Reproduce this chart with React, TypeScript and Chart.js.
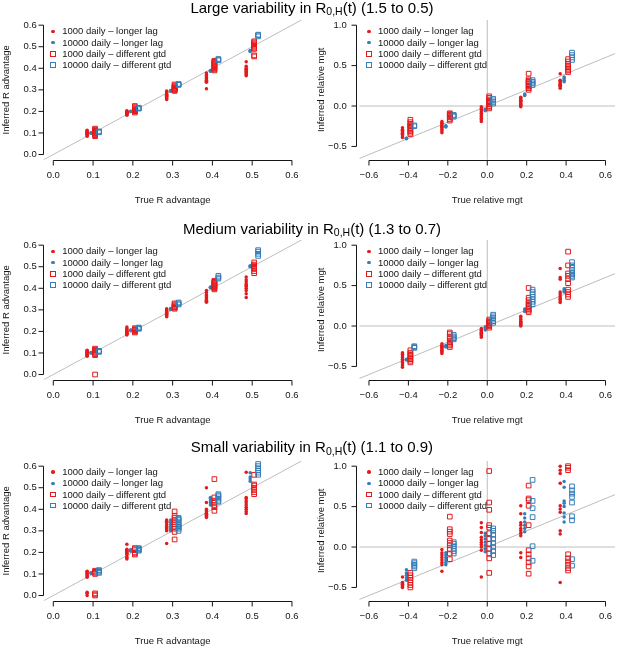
import { useEffect, useRef } from "react"
import { Chart, registerables } from "chart.js"
import type { Plugin } from "chart.js"

Chart.register(...registerables)

// ---------- data ----------

const SERIES_LABELS = [
  "1000 daily – longer lag",
  "10000 daily – longer lag",
  "1000 daily – different gtd",
  "10000 daily – different gtd",
]
const SERIES_COLORS = ["#E41A1C", "#377EB8", "#E41A1C", "#377EB8"]
const SERIES_SQUARE = [false, false, true, true]

const VARIABILITY = ["Large", "Medium", "Small"]
const R0_RANGES = ["(1.5 to 0.5)", "(1.3 to 0.7)", "(1.1 to 0.9)"]

// true values and the side-by-side shift of each series
const R_TRUE = [0.1, 0.2, 0.3, 0.4, 0.5]
const MGT_TRUE = [-0.4, -0.2, 0, 0.2, 0.4]
const R_SHIFT = [-0.015, -0.005, 0.005, 0.015]
const MGT_SHIFT = [-0.03, -0.01, 0.01, 0.03]

const R_TICKS = [0, 0.1, 0.2, 0.3, 0.4, 0.5, 0.6]
const MGT_X_TICKS = [-0.6, -0.4, -0.2, 0, 0.2, 0.4, 0.6]
const MGT_Y_TICKS = [-0.5, 0, 0.5, 1]
const MGT_Y_LIMITS = [-0.6, 1.0]
const IDENTITY = [-2, 2]

// large variability – R advantage
const largeR1000Lag = [
  [0.085, 0.09, 0.093, 0.096, 0.1, 0.103, 0.106, 0.11, 0.113, 0.098],
  [0.182, 0.186, 0.189, 0.192, 0.195, 0.198, 0.2, 0.203, 0.19, 0.196],
  [0.255, 0.26, 0.265, 0.27, 0.275, 0.28, 0.285, 0.29, 0.295, 0.272],
  [0.305, 0.335, 0.34, 0.345, 0.35, 0.355, 0.36, 0.365, 0.37, 0.378],
  [0.365, 0.37, 0.375, 0.38, 0.385, 0.39, 0.395, 0.4, 0.41, 0.43],
]
const largeR10000Lag = [
  [0.099, 0.1, 0.101],
  [0.199, 0.2, 0.201],
  [0.293, 0.295, 0.297],
  [0.386, 0.388, 0.39],
  [0.478, 0.48, 0.482],
]
const largeR1000Gtd = [
  [0.085, 0.09, 0.095, 0.1, 0.105, 0.11, 0.115, 0.12, 0.1, 0.108],
  [0.195, 0.2, 0.205, 0.21, 0.215, 0.22, 0.225, 0.2, 0.21, 0.205],
  [0.295, 0.3, 0.305, 0.31, 0.315, 0.32, 0.325, 0.3, 0.31, 0.305],
  [0.39, 0.395, 0.4, 0.405, 0.41, 0.415, 0.42, 0.425, 0.43, 0.435],
  [0.455, 0.46, 0.49, 0.495, 0.5, 0.505, 0.51, 0.515, 0.52, 0.525],
]
const largeR10000Gtd = [
  [0.103, 0.105, 0.107],
  [0.213, 0.215, 0.217],
  [0.323, 0.325, 0.327],
  [0.437, 0.44, 0.443],
  [0.548, 0.553, 0.556],
]

// large variability – relative mgt
const largeM1000Lag = [
  [-0.27, -0.29, -0.3, -0.31, -0.32, -0.33, -0.34, -0.35, -0.37, -0.39],
  [-0.19, -0.21, -0.22, -0.23, -0.25, -0.26, -0.27, -0.29, -0.31, -0.33],
  [-0.01, -0.03, -0.05, -0.07, -0.09, -0.11, -0.13, -0.15, -0.17, -0.19],
  [-0.01, 0.01, 0.02, 0.03, 0.05, 0.06, 0.07, 0.08, 0.1, 0.11],
  [0.22, 0.24, 0.25, 0.26, 0.27, 0.28, 0.3, 0.31, 0.32, 0.4],
]
const largeM10000Lag = [
  [-0.4, -0.405, -0.398],
  [-0.26, -0.25, -0.245],
  [-0.06, -0.05, -0.04],
  [0.13, 0.14, 0.15],
  [0.3, 0.32, 0.34, 0.36],
]
const largeM1000Gtd = [
  [-0.17, -0.2, -0.22, -0.24, -0.25, -0.27, -0.29, -0.31, -0.33, -0.35],
  [-0.09, -0.1, -0.11, -0.12, -0.13, -0.14, -0.16, -0.18],
  [-0.03, -0.01, 0, 0.02, 0.04, 0.05, 0.06, 0.08, 0.1, 0.12],
  [0.2, 0.22, 0.24, 0.25, 0.27, 0.29, 0.3, 0.31, 0.33, 0.4],
  [0.42, 0.44, 0.46, 0.48, 0.5, 0.52, 0.55, 0.58],
]
const largeM10000Gtd = [
  [-0.25, -0.24],
  [-0.13, -0.12, -0.11],
  [0.03, 0.05, 0.07, 0.09],
  [0.26, 0.28, 0.3, 0.32],
  [0.57, 0.6, 0.63, 0.66],
]

// medium variability – R advantage
const mediumR1000Lag = [
  [0.085, 0.088, 0.091, 0.094, 0.097, 0.1, 0.103, 0.106, 0.11, 0.113],
  [0.183, 0.187, 0.19, 0.194, 0.197, 0.2, 0.204, 0.208, 0.214, 0.22],
  [0.268, 0.272, 0.276, 0.28, 0.284, 0.288, 0.292, 0.296, 0.3, 0.305],
  [0.335, 0.34, 0.345, 0.35, 0.355, 0.36, 0.365, 0.37, 0.38, 0.39],
  [0.357, 0.375, 0.39, 0.4, 0.41, 0.415, 0.42, 0.43, 0.44, 0.452],
]
const mediumR10000Lag = [
  [0.1, 0.101, 0.102],
  [0.204, 0.205, 0.206],
  [0.302, 0.304, 0.306],
  [0.402, 0.404, 0.406],
  [0.5, 0.502, 0.504],
]
const mediumR1000Gtd = [
  [0.0, 0.09, 0.095, 0.1, 0.105, 0.11, 0.115, 0.12],
  [0.195, 0.2, 0.205, 0.21, 0.215, 0.2, 0.208],
  [0.305, 0.31, 0.315, 0.32, 0.325, 0.33, 0.312],
  [0.395, 0.4, 0.405, 0.41, 0.415, 0.42, 0.425, 0.43, 0.435],
  [0.47, 0.48, 0.49, 0.495, 0.5, 0.505, 0.51, 0.52],
]
const mediumR10000Gtd = [
  [0.105, 0.108, 0.11],
  [0.212, 0.215, 0.218],
  [0.325, 0.33, 0.334],
  [0.445, 0.45, 0.458],
  [0.55, 0.56, 0.57, 0.577],
]

// medium variability – relative mgt
const mediumM1000Lag = [
  [-0.33, -0.35, -0.37, -0.39, -0.41, -0.43, -0.45, -0.47, -0.49, -0.51],
  [-0.22, -0.24, -0.25, -0.26, -0.27, -0.28, -0.3, -0.31, -0.32, -0.34],
  [-0.03, -0.05, -0.06, -0.07, -0.08, -0.09, -0.1, -0.11, -0.12, -0.14],
  [0, 0.01, 0.02, 0.03, 0.04, 0.05, 0.06, 0.08, 0.1, 0.12],
  [0.29, 0.31, 0.33, 0.35, 0.37, 0.4, 0.42, 0.58, 0.6, 0.71],
]
const mediumM10000Lag = [
  [-0.42, -0.41],
  [-0.26, -0.25, -0.24],
  [-0.05, -0.03, -0.01],
  [0.18, 0.2, 0.21],
  [0.42, 0.44, 0.46],
]
const mediumM1000Gtd = [
  [-0.3, -0.33, -0.35, -0.37, -0.39, -0.41, -0.43, -0.45],
  [-0.08, -0.1, -0.13, -0.15, -0.18, -0.2, -0.22, -0.24, -0.26],
  [-0.02, 0, 0.01, 0.02, 0.04, 0.05, 0.06, 0.08],
  [0.17, 0.19, 0.21, 0.23, 0.25, 0.27, 0.29, 0.32, 0.35, 0.47],
  [0.36, 0.39, 0.42, 0.45, 0.53, 0.58, 0.62, 0.65, 0.75, 0.92],
]
const mediumM10000Gtd = [
  [-0.27, -0.26, -0.25],
  [-0.11, -0.13, -0.15, -0.165],
  [0.04, 0.06, 0.08, 0.1, 0.12, 0.14],
  [0.27, 0.3, 0.33, 0.36, 0.39, 0.42, 0.45],
  [0.6, 0.62, 0.64, 0.66, 0.69, 0.72, 0.75, 0.79],
]

// small variability – R advantage
const smallR1000Lag = [
  [0, 0.01, 0.015, 0.085, 0.09, 0.095, 0.1, 0.105, 0.11, 0.113],
  [0.17, 0.175, 0.18, 0.19, 0.195, 0.2, 0.205, 0.21, 0.215, 0.238],
  [0.241, 0.3, 0.305, 0.31, 0.315, 0.32, 0.33, 0.34, 0.345, 0.35],
  [0.362, 0.367, 0.372, 0.377, 0.382, 0.387, 0.392, 0.4, 0.432, 0.5],
  [0.38, 0.39, 0.4, 0.41, 0.42, 0.43, 0.44, 0.45, 0.455, 0.572],
]
const smallR10000Lag = [
  [0.102, 0.104, 0.106],
  [0.205, 0.21, 0.214],
  [0.3, 0.31, 0.32, 0.33, 0.34, 0.35],
  [0.42, 0.43, 0.44, 0.45, 0.455],
  [0.53, 0.54, 0.55, 0.57],
]
const smallR1000Gtd = [
  [0, 0.005, 0.01, 0.1, 0.105, 0.11, 0.115],
  [0.19, 0.195, 0.2, 0.21, 0.215, 0.22],
  [0.26, 0.295, 0.31, 0.32, 0.33, 0.34, 0.35, 0.36, 0.37, 0.39],
  [0.393, 0.41, 0.42, 0.43, 0.44, 0.455, 0.54],
  [0.47, 0.48, 0.49, 0.5, 0.51, 0.515, 0.56],
]
const smallR10000Gtd = [
  [0.105, 0.11, 0.115, 0.118],
  [0.208, 0.212, 0.216, 0.22],
  [0.3, 0.31, 0.315, 0.32, 0.325, 0.33, 0.34, 0.35, 0.355, 0.36],
  [0.435, 0.44, 0.45, 0.46, 0.465, 0.47],
  [0.56, 0.57, 0.58, 0.59, 0.6, 0.61],
]

// small variability – relative mgt
const smallM1000Lag = [
  [-0.37, -0.44, -0.45, -0.46, -0.47, -0.48, -0.49, -0.5],
  [-0.03, -0.07, -0.1, -0.13, -0.16, -0.19, -0.22, -0.3],
  [-0.37, -0.04, 0, 0.03, 0.06, 0.09, 0.12, 0.18, 0.24, 0.3],
  [-0.13, -0.07, 0.14, 0.17, 0.2, 0.23, 0.27, 0.3, 0.41, 0.51],
  [-0.44, 0.16, 0.2, 0.43, 0.47, 0.51, 0.79, 0.91, 0.95, 1.0],
]
const smallM10000Lag = [
  [-0.28, -0.32, -0.35, -0.38, -0.41],
  [-0.07, -0.1, -0.13, -0.16, -0.19, -0.22],
  [-0.06, -0.02, 0.02, 0.06, 0.1, 0.14, 0.17],
  [0.19, 0.23, 0.27, 0.31, 0.36, 0.41],
  [0.31, 0.37, 0.42, 0.5, 0.54, 0.57, 0.74, 0.81],
]
const smallM1000Gtd = [
  [-0.32, -0.35, -0.38, -0.41, -0.44, -0.47, -0.5],
  [-0.15, -0.08, -0.03, 0.02, 0.05, 0.08, 0.16, 0.19, 0.22, 0.376],
  [-0.32, -0.14, -0.08, -0.02, 0.04, 0.1, 0.17, 0.24, 0.27, 0.46, 0.55, 0.94],
  [-0.33, -0.24, -0.19, -0.14, -0.09, -0.04, 0.27, 0.51, 0.58, 0.6, 0.76],
  [-0.29, -0.26, -0.22, -0.18, -0.14, -0.09, 0.95, 0.98, 1.0],
]
const smallM10000Gtd = [
  [-0.18, -0.2, -0.22, -0.24, -0.26],
  [-0.08, -0.05, -0.02, 0.01, 0.04, 0.06],
  [-0.1, -0.05, 0, 0.05, 0.1, 0.15, 0.2, 0.23],
  [-0.17, 0.01, 0.37, 0.48, 0.57, 0.83],
  [-0.23, -0.15, 0.33, 0.38, 0.55, 0.62, 0.66, 0.7, 0.75],
]

const PANELS = [
  [
    [largeR1000Lag, largeR10000Lag, largeR1000Gtd, largeR10000Gtd],
    [largeM1000Lag, largeM10000Lag, largeM1000Gtd, largeM10000Gtd],
  ],
  [
    [mediumR1000Lag, mediumR10000Lag, mediumR1000Gtd, mediumR10000Gtd],
    [mediumM1000Lag, mediumM10000Lag, mediumM1000Gtd, mediumM10000Gtd],
  ],
  [
    [smallR1000Lag, smallR10000Lag, smallR1000Gtd, smallR10000Gtd],
    [smallM1000Lag, smallM10000Lag, smallM1000Gtd, smallM10000Gtd],
  ],
]

// ---------- layout ----------

const FONT = "'Liberation Sans', Arial, Helvetica, sans-serif"
const INK = "#151515"
const GUIDE = "#bdbdbd"
const FONT_SIZE = 9.5
const TICK_LEN = 5

const ROW_TOPS = [19.8, 239.8, 460.5] // top of each row's plot area
const TITLE_TOPS = [-0.4, 220.6, 439]
const PLOT_H = 139.7
const PAD_TOP = 14
const X_AXIS_H = 46
const COLS = [
  { left: 0, width: 310, yAxisW: 43.75, padRight: 8.5, tickPad: 7, titlePad: 0.3, axisGap: 0.3 },
  { left: 308, width: 312, yAxisW: 51.5, padRight: 3.5, tickPad: 12.8, titlePad: 7.3, axisGap: 4 },
]
const LEG_DX = 9.3
const LEG_DY = 11.6
const LEG_STEP = 11.2

const fmt = (v: number) => (v < -1e-9 ? "\u2212" : "") + Math.abs(v).toFixed(1)

// R-style axes: the line only spans the first to the last tick
const rAxis: Plugin = {
  id: "rAxis",
  afterDraw(chart, _args, opts: any) {
    const { ctx, chartArea } = chart
    const xs = chart.scales.x
    const ys = chart.scales.y
    const ax = Math.round(chartArea.left - opts.yGap) + 0.5
    const ay = Math.round(chartArea.bottom + opts.xGap) + 0.5
    const xp = xs.ticks.map((t) => xs.getPixelForValue(t.value))
    const yp = ys.ticks.map((t) => ys.getPixelForValue(t.value))
    ctx.save()
    ctx.strokeStyle = INK
    ctx.lineWidth = 1
    ctx.beginPath()
    ctx.moveTo(xp[0], ay)
    ctx.lineTo(xp[xp.length - 1], ay)
    for (const p of xp) {
      ctx.moveTo(p, ay)
      ctx.lineTo(p, ay + TICK_LEN)
    }
    ctx.moveTo(ax, yp[0])
    ctx.lineTo(ax, yp[yp.length - 1])
    for (const p of yp) {
      ctx.moveTo(ax, p)
      ctx.lineTo(ax - TICK_LEN, p)
    }
    ctx.stroke()
    ctx.restore()
  },
}

function Panel({ row, col }: { row: number; col: number }) {
  const canvasRef = useRef<HTMLCanvasElement>(null)
  const chartRef = useRef<Chart | null>(null)
  const g = COLS[col]
  const mgt = col === 1

  useEffect(() => {
    if (!canvasRef.current) return
    if (chartRef.current) chartRef.current.destroy()

    const truth = mgt ? MGT_TRUE : R_TRUE
    const shift = mgt ? MGT_SHIFT : R_SHIFT
    const xTicks = mgt ? MGT_X_TICKS : R_TICKS
    const yTicks = mgt ? MGT_Y_TICKS : R_TICKS
    const xLo = xTicks[0]
    const xHi = xTicks[xTicks.length - 1]
    const yLo = mgt ? MGT_Y_LIMITS[0] : R_TICKS[0]
    const yHi = mgt ? MGT_Y_LIMITS[1] : R_TICKS[R_TICKS.length - 1]
    // R pads each axis range by 4 %
    const xPad = 0.04 * (xHi - xLo)
    const yPad = 0.04 * (yHi - yLo)

    const points: any[] = PANELS[row][col].map((byGroup, s) => ({
      type: "scatter",
      label: SERIES_LABELS[s],
      data: truth.flatMap((t, gi) => byGroup[gi].map((y) => ({ x: t + shift[s], y }))),
      pointStyle: SERIES_SQUARE[s] ? "rect" : "circle",
      pointRadius: SERIES_SQUARE[s] ? 3.3 : 1.75,
      pointBorderWidth: SERIES_SQUARE[s] ? 1 : 0,
      pointBorderColor: SERIES_COLORS[s],
      pointBackgroundColor: SERIES_SQUARE[s] ? "rgba(0,0,0,0)" : SERIES_COLORS[s],
      order: 3 - s,
    }))

    const guide = (data: { x: number; y: number }[]) => ({
      type: "line",
      data,
      borderColor: GUIDE,
      borderWidth: 1,
      pointRadius: 0,
      order: 10,
    })
    const guides: any[] = [guide(IDENTITY.map((v) => ({ x: v, y: v })))]
    if (mgt) {
      guides.push(guide(IDENTITY.map((v) => ({ x: v, y: 0 }))))
      guides.push(guide(IDENTITY.map((v) => ({ x: 0, y: v }))))
    }

    const tickFont = { family: FONT, size: FONT_SIZE }

    chartRef.current = new Chart(canvasRef.current, {
      type: "scatter",
      data: { datasets: [...points, ...guides] },
      options: {
        animation: false,
        responsive: true,
        maintainAspectRatio: false,
        events: [],
        layout: { padding: { top: PAD_TOP, left: 0, right: g.padRight, bottom: 0 } },
        plugins: {
          legend: { display: false },
          tooltip: { enabled: false },
          rAxis: { yGap: g.axisGap, xGap: 0.5 },
        } as any,
        scales: {
          x: {
            type: "linear",
            min: xLo - xPad,
            max: xHi + xPad,
            afterBuildTicks: (s: any) => {
              s.ticks = xTicks.map((value) => ({ value }))
            },
            afterFit: (s: any) => {
              s.height = X_AXIS_H
              s.paddingLeft = s.paddingRight = s.paddingTop = s.paddingBottom = 0
            },
            grid: { display: false, drawTicks: false },
            border: { display: false },
            ticks: {
              padding: 10,
              color: INK,
              font: tickFont,
              autoSkip: false,
              maxRotation: 0,
              callback: (v: any) => fmt(Number(v)),
            },
            title: {
              display: true,
              text: mgt ? "True relative mgt" : "True R advantage",
              color: INK,
              font: tickFont,
              padding: 0,
            },
          },
          y: {
            type: "linear",
            min: yLo - yPad,
            max: yHi + yPad,
            afterBuildTicks: (s: any) => {
              s.ticks = yTicks.map((value) => ({ value }))
            },
            afterFit: (s: any) => {
              s.width = g.yAxisW
              s.paddingLeft = s.paddingRight = s.paddingTop = s.paddingBottom = 0
            },
            grid: { display: false, drawTicks: false },
            border: { display: false },
            ticks: {
              padding: g.tickPad,
              color: INK,
              font: tickFont,
              autoSkip: false,
              callback: (v: any) => fmt(Number(v)),
            },
            title: {
              display: true,
              text: mgt ? "Inferred relative mgt" : "Inferred R advantage",
              color: INK,
              font: tickFont,
              padding: { top: g.titlePad, bottom: 0 },
            },
          },
        },
      },
      plugins: [rAxis],
    })

    return () => {
      if (chartRef.current) {
        chartRef.current.destroy()
        chartRef.current = null
      }
    }
  }, [row, col])

  const top = ROW_TOPS[row] - PAD_TOP
  const plotLeft = g.left + g.yAxisW
  const legTop = ROW_TOPS[row] + LEG_DY

  return (
    <>
      <div
        style={{
          position: "absolute",
          left: g.left,
          top,
          width: g.width,
          height: PAD_TOP + PLOT_H + X_AXIS_H,
        }}
      >
        <canvas ref={canvasRef}></canvas>
      </div>

      {/* legend, top-left inside the plot */}
      {SERIES_LABELS.map((label, i) => (
        <div
          key={label}
          style={{
            position: "absolute",
            left: plotLeft + LEG_DX,
            top: legTop + i * LEG_STEP - 6,
            height: 12,
            lineHeight: "12px",
            fontSize: FONT_SIZE,
            color: INK,
            whiteSpace: "nowrap",
          }}
        >
          {SERIES_SQUARE[i] ? (
            <span
              style={{
                position: "absolute",
                left: -2.8,
                top: 3.2,
                width: 5.6,
                height: 5.6,
                boxSizing: "border-box",
                border: `1px solid ${SERIES_COLORS[i]}`,
              }}
            />
          ) : (
            <span
              style={{
                position: "absolute",
                left: -1.75,
                top: 4.25,
                width: 3.5,
                height: 3.5,
                borderRadius: "50%",
                background: SERIES_COLORS[i],
              }}
            />
          )}
          <span style={{ position: "absolute", left: 9.2, top: 0 }}>{label}</span>
        </div>
      ))}
    </>
  )
}

export default function App() {
  return (
    <div
      style={{
        position: "absolute",
        left: 0,
        top: 0,
        width: 617,
        height: 646,
        overflow: "hidden",
        background: "#fff",
        fontFamily: FONT,
      }}
    >
      {VARIABILITY.map((level, row) => (
        <div key={level}>
          <Panel row={row} col={0} />
          <Panel row={row} col={1} />
          <div
            style={{
              position: "absolute",
              left: 0,
              width: 624,
              top: TITLE_TOPS[row],
              textAlign: "center",
              fontSize: 15,
              lineHeight: "15px",
              color: "#000",
              whiteSpace: "nowrap",
            }}
          >
            {level} variability in R
            <span style={{ fontSize: 10.5, position: "relative", top: 2.5 }}>0,H</span>
            (t) {R0_RANGES[row]}
          </div>
        </div>
      ))}
    </div>
  )
}
